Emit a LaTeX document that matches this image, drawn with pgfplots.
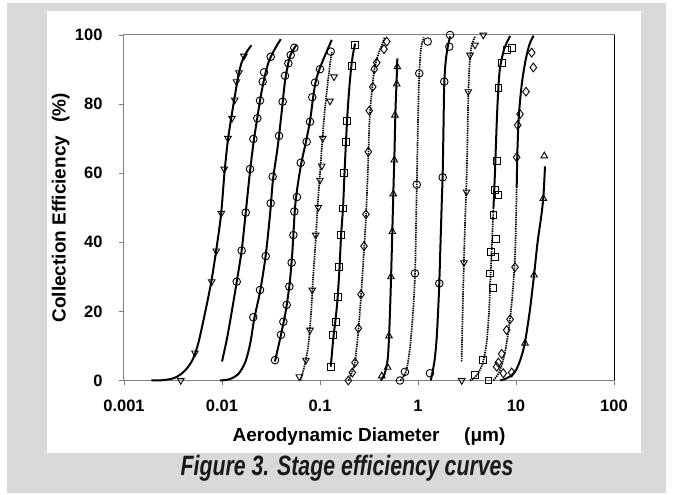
\documentclass[border=0pt]{standalone}
\usepackage{fontspec}
\setmainfont{Liberation Sans}
\usepackage{graphicx}
\usepackage{pgfplots}
\pgfplotsset{compat=1.18}
\definecolor{bggray}{RGB}{217,217,217}
\definecolor{axgray}{RGB}{128,128,128}
\pgfplotsset{
 fit/.style={black, line width=2pt, smooth, tension=0.5, no marks, solid},
 dfit/.style={black, line width=1.7pt, smooth, tension=0.5, no marks, dash pattern=on 1.4pt off 0.9pt},
 mk/.style={only marks, black, mark size=3.8pt, mark options={line width=0.9pt, fill=none, solid}},
 tdown/.style={mk, mark=triangle, mark options={rotate=180, line width=0.9pt, fill=none, solid}},
 tup/.style={mk, mark=triangle},
 circ/.style={mk, mark=o},
 sq/.style={mk, mark=square, mark size=3.4pt},
 dia/.style={mk, mark=diamond, mark size=4.4pt},
}
\begin{document}
\begin{tikzpicture}[x=1pt,y=1pt]
\useasboundingbox (0,0) rectangle (673,495);
\fill[white] (0,0) rectangle (673,495);
\fill[bggray] (7,2) rectangle (666,492);
\fill[white] (47,42) rectangle (641,484);
\begin{axis}[
 at={(124pt,114.5pt)}, anchor=south west,
 scale only axis, width=490pt, height=345.5pt,
 xmin=-3, xmax=2, ymin=0, ymax=100,
 xtick={-3,-2,-1,0,1,2}, xticklabels={0.001,0.01,0.1,1,10,100},
 ytick={0,20,40,60,80,100},
 axis line style={axgray, line width=1pt},
 tick style={axgray, line width=0.8pt},
 tick align=outside, major tick length=5pt,
 xtick pos=bottom, ytick pos=left,
 clip=false,
 ticklabel style={font=\fontsize{16.5}{19}\selectfont\bfseries},
 /pgf/number format/assume math mode=true,
 xticklabel style={yshift=-11pt},
 yticklabel style={xshift=-13pt},
 xlabel={Aerodynamic Diameter\hspace{1.3em}(μm)},
 ylabel={Collection Efficiency\hspace{0.7em}(\%)},
 label style={font=\fontsize{19}{22}\selectfont\bfseries},
 xlabel style={at={(axis description cs:0.5,-0.1635)}, anchor=center},
 ylabel style={at={(axis description cs:-0.129,0.5)}, anchor=center},
]
% C1 triangle-down, solid
\addplot[fit] coordinates {(-2.72,0) (-2.60,0.1) (-2.48,0.8) (-2.38,2.8) (-2.30,6) (-2.24,11) (-2.17,20) (-2.11,28.5) (-2.06,37.5) (-2.01,48) (-1.975,60) (-1.94,69.5) (-1.90,77) (-1.865,83) (-1.835,88) (-1.80,92) (-1.75,95) (-1.70,97)};
\addplot[tdown] coordinates {(-2.421,0) (-2.276,8.0) (-2.105,28.6) (-2.058,37.5) (-2.007,48.4) (-1.977,61.2) (-1.939,70.1) (-1.898,75.9) (-1.870,81.2) (-1.852,86.5) (-1.827,89.1) (-1.776,93.9)};
% C2 circles, solid
\addplot[fit] coordinates {(-2.00,5.5) (-1.95,12) (-1.90,20) (-1.85,28.5) (-1.80,37.5) (-1.76,48) (-1.72,59) (-1.68,68.5) (-1.64,76) (-1.60,83) (-1.56,88.5) (-1.52,92.5) (-1.46,96) (-1.40,98.8)};
\addplot[circ] coordinates {(-1.850,28.6) (-1.799,37.6) (-1.758,48.6) (-1.714,61.2) (-1.680,69.9) (-1.640,75.9) (-1.612,81.0) (-1.585,86.5) (-1.571,89.2) (-1.503,93.7)};
% C3 circles, solid
\addplot[fit] coordinates {(-2.02,0) (-1.92,0.4) (-1.83,2) (-1.76,5.5) (-1.71,11) (-1.67,18) (-1.61,26) (-1.555,36) (-1.51,48) (-1.48,58) (-1.43,68) (-1.39,78) (-1.36,86) (-1.33,91) (-1.30,94.3) (-1.24,97.2)};
\addplot[circ] coordinates {(-1.681,18.3) (-1.612,26.2) (-1.554,36.0) (-1.503,51.3) (-1.483,59.0) (-1.418,70.8) (-1.381,80.7) (-1.357,88.2) (-1.323,91.8) (-1.299,94.2) (-1.262,96.3)};
% C4 circles, solid
\addplot[fit] coordinates {(-1.46,5.5) (-1.40,13) (-1.35,20) (-1.31,28) (-1.285,36) (-1.27,43) (-1.255,50) (-1.23,56) (-1.19,63) (-1.14,69.5) (-1.10,75.5) (-1.07,82) (-1.04,87) (-1.00,90.5) (-0.95,94) (-0.88,98.6)};
\addplot[circ] coordinates {(-1.459,5.9) (-1.398,13.2) (-1.374,17.0) (-1.340,21.9) (-1.313,27.2) (-1.289,34.1) (-1.272,42.1) (-1.262,48.9) (-1.235,53.1) (-1.197,63.0) (-1.136,69.1) (-1.102,74.9) (-1.079,82.0) (-1.051,86.2) (-1.000,90.1) (-0.891,95.2)};
% C5 triangle-down, dotted
\addplot[dfit] coordinates {(-1.20,0) (-1.16,4) (-1.12,10) (-1.09,20) (-1.07,30) (-1.045,40) (-1.025,50) (-1.005,58) (-0.98,68) (-0.955,77) (-0.925,85) (-0.90,91) (-0.88,95)};
\addplot[tdown] coordinates {(-1.211,1.1) (-1.143,5.9) (-1.102,14.6) (-1.079,26.2) (-1.044,42.1) (-1.017,50.1) (-1.000,58.0) (-0.982,62.1) (-0.972,70.1) (-0.898,80.9) (-0.857,87.9)};
% C6 squares, solid
\addplot[fit] coordinates {(-0.89,4) (-0.865,12) (-0.84,18) (-0.82,24) (-0.80,33) (-0.785,42) (-0.765,50) (-0.75,60) (-0.735,69) (-0.72,77) (-0.70,85) (-0.68,91) (-0.66,95) (-0.64,97.5)};
\addplot[sq] coordinates {(-0.891,4.0) (-0.864,13.2) (-0.837,17.0) (-0.819,24.1) (-0.803,32.9) (-0.786,42.1) (-0.762,49.8) (-0.752,60.0) (-0.735,69.1) (-0.727,75.1) (-0.676,91.0) (-0.643,97.1)};
% C7 diamonds, dotted
\addplot[dfit] coordinates {(-0.71,0) (-0.68,2) (-0.645,5) (-0.61,14) (-0.58,25) (-0.55,38) (-0.53,48) (-0.51,62) (-0.495,75) (-0.47,84) (-0.445,90) (-0.41,94) (-0.37,97) (-0.34,99.3)};
\addplot[dia] coordinates {(-0.711,0) (-0.670,2.3) (-0.643,5.2) (-0.609,15.1) (-0.582,24.9) (-0.551,38.9) (-0.531,48.1) (-0.507,66.2) (-0.497,78.1) (-0.462,85.0) (-0.446,90.1) (-0.421,92.0) (-0.347,95.9) (-0.319,98.1)};
% C8 triangle-up, solid
\addplot[fit] coordinates {(-0.38,0) (-0.34,2) (-0.31,6) (-0.295,13) (-0.28,25) (-0.265,40) (-0.252,54) (-0.24,66) (-0.23,78) (-0.218,87) (-0.211,93.2)};
\addplot[tup] coordinates {(-0.370,1.3) (-0.310,3.8) (-0.296,12.9) (-0.276,30.0) (-0.262,43.1) (-0.252,54.0) (-0.242,63.8) (-0.235,76.8) (-0.217,85.8) (-0.211,90.8)};
% C9 circles, dotted
\addplot[dfit] coordinates {(-0.18,0) (-0.14,1.5) (-0.11,4) (-0.08,10) (-0.05,20) (-0.03,31) (-0.02,45) (-0.012,57) (0.0,75) (0.012,88) (0.03,96) (0.06,99.3)};
\addplot[circ] coordinates {(-0.184,0) (-0.133,2.5) (-0.031,31.0) (-0.013,56.7) (0.013,88.9) (0.099,98.1)};
% C10 circles, solid
\addplot[fit] coordinates {(0.13,0) (0.145,2) (0.17,6) (0.19,12) (0.205,20) (0.217,28) (0.23,40) (0.243,52) (0.252,60) (0.26,73) (0.268,86) (0.285,93) (0.31,97.5) (0.33,99.6)};
\addplot[circ] coordinates {(0.122,2.1) (0.217,28.1) (0.252,58.8) (0.268,86.5) (0.319,96.6) (0.327,100)};
% C11 triangle-down, dotted
\addplot[dfit] coordinates {(0.445,5.5) (0.452,15) (0.46,25) (0.47,36) (0.483,48) (0.495,58) (0.505,70) (0.513,82) (0.525,91) (0.545,96.5) (0.58,99.5)};
\addplot[tdown] coordinates {(0.446,0) (0.469,34.1) (0.495,54.6) (0.513,83.6) (0.531,94.2) (0.582,97.1) (0.666,100)};
% C12 squares
\addplot[dfit] coordinates {(0.53,0) (0.60,1.5) (0.66,5) (0.70,11) (0.725,20) (0.74,30) (0.755,40) (0.77,50)};
\addplot[fit] coordinates {(0.77,50) (0.785,60) (0.80,72) (0.815,82) (0.835,90) (0.88,96) (0.94,99.7)};
\addplot[sq] coordinates {(0.582,1.6) (0.718,0) (0.666,5.9) (0.762,26.7) (0.735,31.0) (0.786,35.8) (0.742,37.3) (0.796,40.9) (0.769,47.9) (0.786,55.1) (0.820,53.7) (0.803,63.6) (0.820,84.6) (0.854,91.8) (0.905,95.7) (0.956,96.2)};
% C13 diamonds
\addplot[dfit] coordinates {(0.77,0) (0.82,2) (0.86,5) (0.90,10) (0.94,18) (0.97,27) (0.99,36) (1.0,46) (1.007,56)};
\addplot[fit] coordinates {(1.007,56) (1.015,67) (1.03,77) (1.06,86) (1.10,93) (1.14,97.5) (1.18,99.8)};
\addplot[dia] coordinates {(0.803,4.0) (0.820,5.2) (0.854,7.7) (0.871,2.1) (0.905,14.6) (0.939,17.7) (0.956,2.3) (0.990,32.8) (1.007,64.6) (1.017,73.9) (1.041,77.1) (1.102,83.6) (1.177,90.6) (1.160,94.9)};
% C14 triangle-up, solid
\addplot[fit] coordinates {(0.84,0) (0.93,1) (1.0,3) (1.05,6.5) (1.09,10.8) (1.14,20) (1.184,30.5) (1.22,40) (1.255,47) (1.279,53) (1.296,62)};
\addplot[tup] coordinates {(1.092,10.8) (1.184,30.5) (1.279,52.7) (1.289,65.0)};
\draw[black, line width=1pt] (rel axis cs:1,0) -- (rel axis cs:1,1);
\end{axis}
\node[font=\fontsize{28}{32}\selectfont\bfseries\itshape, text=black!90] at (347,27) {\scalebox{0.76}[1]{Figure 3. Stage efficiency curves}};
\end{tikzpicture}
\end{document}
